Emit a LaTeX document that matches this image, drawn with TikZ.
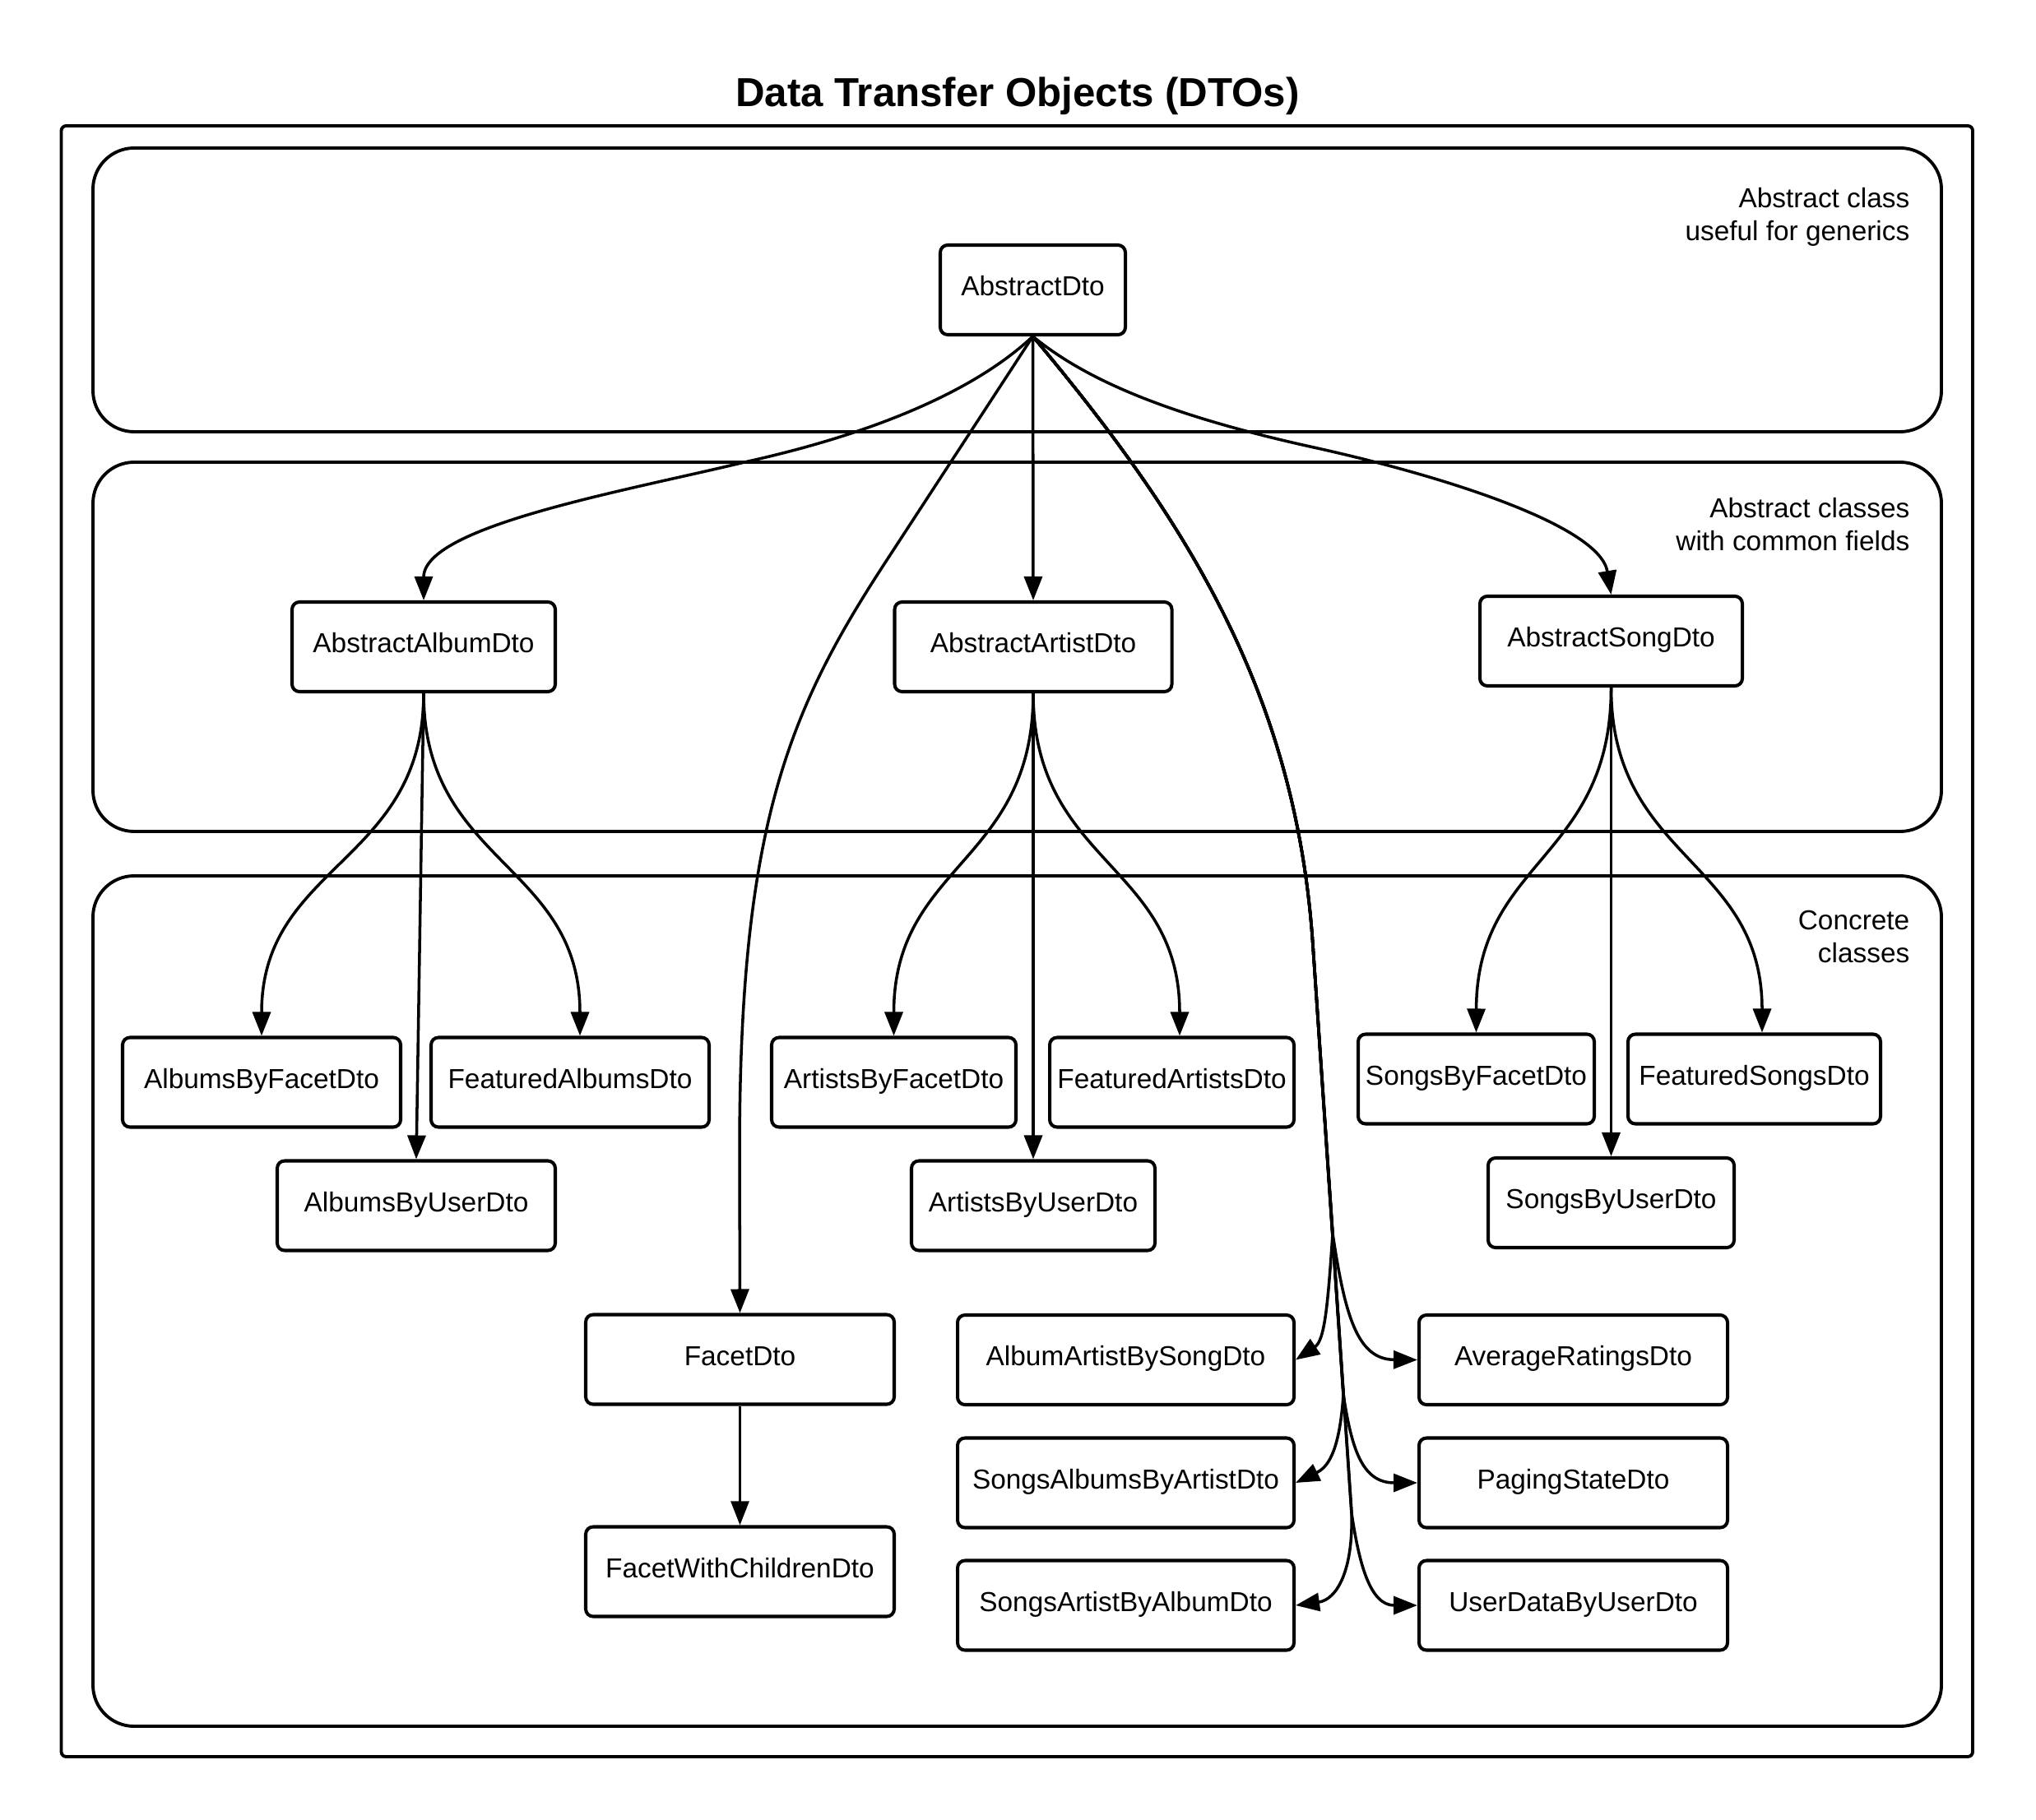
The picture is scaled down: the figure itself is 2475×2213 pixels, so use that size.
\documentclass[tikz,border=0pt]{standalone}
\usepackage{fontspec}
\setmainfont{Liberation Sans}
\usetikzlibrary{arrows.meta}
\begin{document}
\begin{tikzpicture}[x=0.1mm,y=-0.1mm,
  box/.style={draw,line width=1.15pt,rounded corners=0.9mm,fill=white,minimum height=10.9mm,inner sep=0pt,text height=7pt,text depth=3pt,font=\fontsize{9.5}{11.4}\selectfont},
  panel/.style={draw,line width=1.1pt,rounded corners=5mm},
  arr/.style={line width=1pt,-{Triangle[length=2.9mm,width=2.2mm]}},
  thinarr/.style={line width=0.7pt,-{Triangle[length=2.9mm,width=2.2mm]}},
  lbl/.style={align=right,anchor=east,inner sep=0pt,font=\fontsize{9.5}{11.4}\selectfont}]
\useasboundingbox (0,0) rectangle (2475,2213);
% title
\node[anchor=base,inner sep=0pt,font=\fontsize{14}{16}\selectfont\bfseries] (title) at (1237,130) {Data Transfer Objects (DTOs)};
% frame and panels
\draw[line width=1.1pt,rounded corners=0.6mm] (74.5,153) rectangle (2398,2136);
\draw[panel] (113,180) rectangle (2360,525);
\draw[panel] (113,562) rectangle (2360,1011);
\draw[panel] (113,1065) rectangle (2360,2099);
\node[lbl] (l1) at (2322,264) {Abstract class\\useful for generics};
\node[lbl] (l2) at (2322,638) {Abstract classes\\with common fields};
\node[lbl] (l3) at (2322,1139) {Concrete\\classes};
% nodes
\node[box,minimum width=22.5mm] (AD) at (1255.5,352.5) {AbstractDto};
\node[box,minimum width=32mm] (AAl) at (515,786.5) {AbstractAlbumDto};
\node[box,minimum width=33.7mm] (AAr) at (1256,786.5) {AbstractArtistDto};
\node[box,minimum width=31.9mm] (AS) at (1958.5,779.5) {AbstractSongDto};
\node[box,minimum width=33.8mm] (ABF) at (318,1316) {AlbumsByFacetDto};
\node[box,minimum width=33.8mm] (FA) at (693,1316) {FeaturedAlbumsDto};
\node[box,minimum width=33.8mm] (ABU) at (506,1466) {AlbumsByUserDto};
\node[box,minimum width=29.7mm] (ArBF) at (1086.5,1316) {ArtistsByFacetDto};
\node[box,minimum width=29.7mm] (FAr) at (1424.5,1316) {FeaturedArtistsDto};
\node[box,minimum width=29.6mm] (ArBU) at (1256,1466) {ArtistsByUserDto};
\node[box,minimum width=28.7mm] (SBF) at (1794.5,1312) {SongsByFacetDto};
\node[box,minimum width=30.7mm] (FS) at (2132.5,1312) {FeaturedSongsDto};
\node[box,minimum width=29.9mm] (SBU) at (1958.5,1462.5) {SongsByUserDto};
\node[box,minimum width=37.5mm] (Facet) at (899.5,1653) {FacetDto};
\node[box,minimum width=37.5mm] (FWC) at (899.5,1911) {FacetWithChildrenDto};
\node[box,minimum width=40.9mm] (AAS) at (1368.5,1653.5) {AlbumArtistBySongDto};
\node[box,minimum width=40.9mm] (SAA) at (1368.5,1803) {SongsAlbumsByArtistDto};
\node[box,minimum width=40.9mm] (SAB) at (1368.5,1952) {SongsArtistByAlbumDto};
\node[box,minimum width=37.5mm] (AR) at (1912.5,1653.5) {AverageRatingsDto};
\node[box,minimum width=37.5mm] (PS) at (1912.5,1803) {PagingStateDto};
\node[box,minimum width=37.5mm] (UD) at (1912.5,1952) {UserDataByUserDto};
% trunk waypoints
\coordinate (T1) at (1596,1150);
\coordinate (S1) at (1620,1500);
\coordinate (S2) at (1633,1696);
\coordinate (S3) at (1643,1840);
% connectors from AbstractDto
\draw[arr] (AD.south) -- (AAr.north);
\draw[arr] (AD.south) .. controls (1180,480) and (1050,530) .. (905,562) .. controls (760,597) and (515,640) .. (AAl.north);
\draw[arr] (AD.south) .. controls (1320,462) and (1420,505) .. (1597,544) .. controls (1760,580) and (1945,640) .. (AS.north);
\draw[arr] (AD.south) -- (1080,678) .. controls (960,861) and (899,1000) .. (899,1400) -- (Facet.north);
\draw[arr] (AD.south) .. controls (1449,639) and (1576,850) .. (T1) -- (S1) .. controls (1614,1590) and (1610,1630) .. (AAS.east);
\draw[arr] (AD.south) .. controls (1449,639) and (1576,850) .. (T1) -- (S1) .. controls (1635,1600) and (1650,1653) .. (AR.west);
\draw[arr] (AD.south) .. controls (1449,639) and (1576,850) .. (T1) -- (S2) .. controls (1628,1770) and (1612,1785) .. (SAA.east);
\draw[arr] (AD.south) .. controls (1449,639) and (1576,850) .. (T1) -- (S2) .. controls (1643,1760) and (1655,1803) .. (PS.west);
\draw[arr] (AD.south) .. controls (1449,639) and (1576,850) .. (T1) -- (S3) .. controls (1645,1910) and (1625,1945) .. (SAB.east);
\draw[arr] (AD.south) .. controls (1449,639) and (1576,850) .. (T1) -- (S3) .. controls (1652,1900) and (1665,1952) .. (UD.west);
% album children
\draw[arr] (AAl.south) .. controls (515,1050) and (318,1050) .. (ABF.north);
\draw[arr] (AAl.south) -- (ABU.north);
\draw[arr] (AAl.south) .. controls (515,1050) and (705,1050) .. ([xshift=1.2mm]FA.north);
% artist children
\draw[arr] (AAr.south) .. controls (1256,1050) and (1086.5,1050) .. (ArBF.north);
\draw[arr] (AAr.south) -- (ArBU.north);
\draw[arr] (AAr.south) .. controls (1256,1050) and (1434,1050) .. ([xshift=0.95mm]FAr.north);
% song children
\draw[arr] (AS.south) .. controls (1958.5,1045) and (1795,1045) .. (SBF.north);
\draw[arr] (AS.south) -- (SBU.north);
\draw[arr] (AS.south) .. controls (1958.5,1045) and (2142,1045) .. ([xshift=0.95mm]FS.north);
% facet
\draw[thinarr] (Facet.south) -- (FWC.north);
\end{tikzpicture}
\end{document}
